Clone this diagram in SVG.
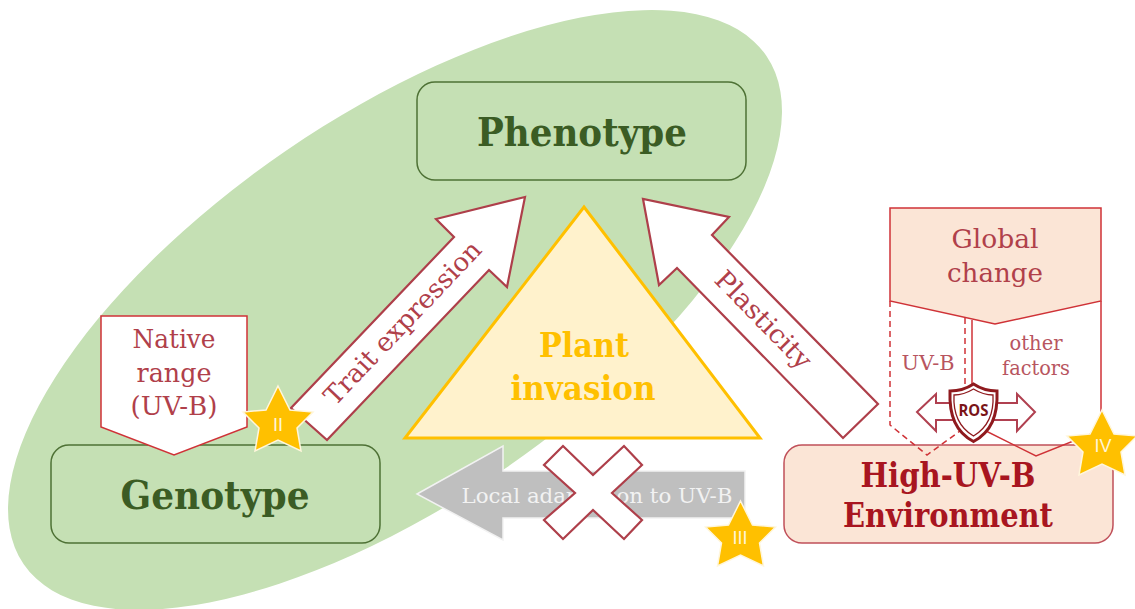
<svg xmlns="http://www.w3.org/2000/svg" xmlns:xlink="http://www.w3.org/1999/xlink" width="1135" height="609" viewBox="0 0 1135 609">
<style>
text{font-family:"DejaVu Serif","Liberation Serif",serif;text-anchor:middle}
.box-g{fill:#C5E0B4;stroke:#4E7135;stroke-width:1.5}
.t-g{font-size:40px;font-weight:bold;fill:#3B5C24}
.t-r{font-size:33px;font-weight:bold;fill:#A81520}
.t-y{font-size:33px;font-weight:bold;fill:#FFC000}
.lab{font-size:26px;fill:#B0404A}
.lab-s{font-size:20px;fill:#B85560}
.arrow{fill:#fff;stroke:#AE3F4A;stroke-width:2.2;stroke-linejoin:miter}
.pent{fill:#fff;stroke:#CF3237;stroke-width:1.5}
.line{fill:none;stroke:#CF3237;stroke-width:1.5}
.star{fill:#FFC000;stroke:#FFF6DC;stroke-width:1.5}
text.num{font-family:"Liberation Sans",sans-serif;font-size:18px;fill:#FFF5D5}
</style>
<defs>
<polygon id="s" points="0,-36 12,-12 35,-10 19,6 23,29 0,18 -23,29 -19,6 -35,-10 -12,-12"/>
</defs>
<ellipse id="bg" cx="395" cy="310" rx="450" ry="193" transform="rotate(-34.4 395 310)" fill="#C5E0B4"/>
<g id="phenotype">
<rect class="box-g" x="417" y="82" width="329" height="98" rx="18"/>
<text class="t-g" x="582" y="146" textLength="210" lengthAdjust="spacingAndGlyphs">Phenotype</text>
</g>
<g id="genotype">
<rect class="box-g" x="51" y="445" width="329" height="98" rx="18"/>
<text class="t-g" x="215" y="509" textLength="189" lengthAdjust="spacingAndGlyphs">Genotype</text>
</g>
<g id="environment">
<rect x="784" y="445" width="329" height="98" rx="18" fill="#FBE5D6" stroke="#C0505A" stroke-width="1.5"/>
<text class="t-r" x="948" y="487" textLength="175" lengthAdjust="spacingAndGlyphs">High-UV-B</text>
<text class="t-r" x="948" y="527" textLength="210" lengthAdjust="spacingAndGlyphs">Environment</text>
</g>
<g id="plant-invasion">
<polygon points="584,207 760,438 405,438" fill="#FFF2CC" stroke="#FFC000" stroke-width="3"/>
<text class="t-y" x="584" y="357" textLength="90" lengthAdjust="spacingAndGlyphs">Plant</text>
<text class="t-y" x="583" y="400" textLength="145" lengthAdjust="spacingAndGlyphs">invasion</text>
</g>
<g id="connectors">
<g id="trait-expression">
<polygon class="arrow" points="525,197 436,219 454,237 291,408 327,440 489,270 507,287"/>
<text class="lab" x="0" y="7" transform="translate(404 324) rotate(-46.4)" textLength="215" lengthAdjust="spacingAndGlyphs">Trait expression</text>
</g>
<g id="plasticity">
<polygon class="arrow" points="643,199 659,285 677,268 843,438 878,404 712,235 729,217"/>
<text class="lab" x="0" y="7" transform="translate(762 321) rotate(45.6)" textLength="126" lengthAdjust="spacingAndGlyphs">Plasticity</text>
</g>
<g id="local-adaptation">
<polygon points="417,494 503,446 503,471 745,471 745,518 503,518 503,540" fill="#BFBFBF" stroke="#F2F2F2" stroke-width="1.5"/>
<text x="597" y="503" font-size="21" fill="#F2F2F2" textLength="271" lengthAdjust="spacingAndGlyphs">Local adaptation to UV-B</text>
<polygon class="arrow" points="563,446 593,475 624,446 642,465 612,493 642,520 624,539 593,510 563,539 544,520 575,493 544,465"/>
</g>
</g>
<g id="native-range">
<polygon class="pent" points="101,316 247,316 247,427 174,455 101,427"/>
<text class="lab" x="174" y="348" textLength="83" lengthAdjust="spacingAndGlyphs">Native</text>
<text class="lab" x="174" y="382" textLength="75" lengthAdjust="spacingAndGlyphs">range</text>
<text class="lab" x="174" y="415" textLength="87" lengthAdjust="spacingAndGlyphs">(UV-B)</text>
</g>
<g id="global-change">
<polyline class="line" stroke-dasharray="6 4" points="890,301 890,425 927,455 960,431"/>
<line class="line" stroke-dasharray="6 4" x1="965" y1="318" x2="965" y2="386"/>
<polyline class="line" points="972,320 972,386"/>
<polyline class="line" points="1101,301 1101,430 1036,456 980,428"/>
<polygon points="890,208 1101,208 1101,301 995,324 890,301" fill="#FBE5D6" stroke="#CF3237" stroke-width="1.5"/>
<text class="lab" x="995" y="248" textLength="87" lengthAdjust="spacingAndGlyphs">Global</text>
<text class="lab" x="995" y="282" textLength="96" lengthAdjust="spacingAndGlyphs">change</text>
<text class="lab-s" x="928" y="370" textLength="53" lengthAdjust="spacingAndGlyphs">UV-B</text>
<text class="lab-s" x="1036" y="350" textLength="53" lengthAdjust="spacingAndGlyphs">other</text>
<text class="lab-s" x="1036" y="375" textLength="68" lengthAdjust="spacingAndGlyphs">factors</text>
</g>
<g id="ros">
<polygon points="917,412 936,394 936,403 1017,403 1017,394 1035,412 1017,431 1017,420 936,420 936,431" fill="#fff" stroke="#B04050" stroke-width="2"/>
<path d="M973.5,384 C981,389 989,391 997,391 C998,416 991,432 973.5,441.5 C956,432 949,416 950,391 C958,391 966,389 973.5,384Z" fill="#fff" stroke="#8F1A1E" stroke-width="3"/>
<path d="M973.5,389 C980,393 987,395 993,395 C994,414 987,428 973.5,436 C960,428 953,414 954,395 C960,395 967,393 973.5,389Z" fill="#fff" stroke="#8F1A1E" stroke-width="1.3"/>
<text x="973.5" y="416" font-size="15.5" font-weight="bold" fill="#7A1418" textLength="30" lengthAdjust="spacingAndGlyphs" style="font-family:'Open Sans','Liberation Sans',sans-serif">ROS</text>
</g>
<g id="star-ii"><use xlink:href="#s" href="#s" class="star" transform="translate(278 422)"/><text class="num" x="278" y="431">II</text></g>
<g id="star-iii"><use xlink:href="#s" href="#s" class="star" transform="translate(740.5 537)"/><text class="num" x="740" y="544">III</text></g>
<g id="star-iv"><use xlink:href="#s" href="#s" class="star" transform="translate(1102 446)"/><text class="num" x="1103" y="452">IV</text></g>
</svg>
